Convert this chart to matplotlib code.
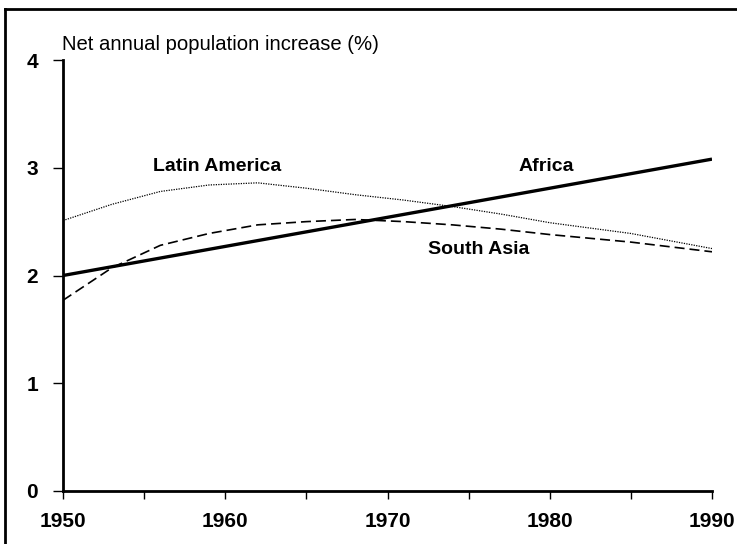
import matplotlib
matplotlib.use("Agg")
import matplotlib.pyplot as plt
from matplotlib.lines import Line2D

plt.rcParams['font.family'] = ['Liberation Sans', 'DejaVu Sans']

# values
years = [1950, 1953, 1956, 1959, 1962, 1965, 1968, 1971, 1974, 1977, 1980, 1985, 1990]
latin_america = [2.51, 2.66, 2.78, 2.84, 2.86, 2.81, 2.75, 2.70, 2.64, 2.57, 2.49, 2.39, 2.25]
south_asia = [1.77, 2.07, 2.28, 2.39, 2.47, 2.50, 2.52, 2.50, 2.47, 2.43, 2.38, 2.31, 2.22]
africa_years = [1950, 1990]
africa = [2.00, 3.08]

labels = ['Latin America', 'Africa', 'South Asia']
label_pos = [(1959.5, 3.01), (1979.8, 3.01), (1975.6, 2.24)]

fig = plt.figure(figsize=(7.37, 5.44), dpi=100)
ax = fig.add_axes([63 / 737, 1 - 491 / 544, (712 - 63) / 737, (491 - 60) / 544])

ax.plot(years, latin_america, color='black', lw=0.9, ls=(0, (1, 1)))
ax.plot(years, south_asia, color='black', lw=1.2, ls=(0, (6, 3)))
ax.plot(africa_years, africa, color='black', lw=2.4, solid_capstyle='butt')

for txt, (x, y) in zip(labels, label_pos):
    ax.text(x, y, txt, fontsize=14, fontweight='bold', ha='center', va='center')

ax.set_xlim(1950, 1990)
ax.set_ylim(0, 4)
ax.set_xticks([1950, 1960, 1970, 1980, 1990])
ax.set_xticks([1955, 1965, 1975, 1985], minor=True)
ax.set_yticks([0, 1, 2, 3, 4])
ax.tick_params(axis='x', which='both', length=6, width=1, direction='out', labelsize=15, pad=9)
ax.tick_params(axis='y', length=7, width=1, direction='out', labelsize=15, pad=11)
for lab in ax.get_xticklabels() + ax.get_yticklabels():
    lab.set_fontweight('bold')
for s in ['top', 'right']:
    ax.spines[s].set_visible(False)
for s in ['left', 'bottom']:
    ax.spines[s].set_linewidth(2)

fig.text(62 / 737, 1 - 44 / 544, 'Net annual population increase (%)', fontsize=14.6,
         ha='left', va='center')

# scanned frame: top and left edges only
fig.add_artist(Line2D([5 / 737, 1], [1 - 9 / 544, 1 - 9 / 544], color='black', lw=2,
                      transform=fig.transFigure))
fig.add_artist(Line2D([5 / 737, 5 / 737], [0, 1 - 9 / 544], color='black', lw=2,
                      transform=fig.transFigure))

fig.savefig('out.png', dpi=100)
